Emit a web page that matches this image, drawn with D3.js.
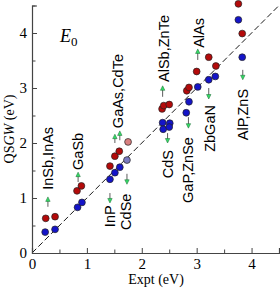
<!DOCTYPE html>
<html><head><meta charset="utf-8">
<script src="https://cdn.jsdelivr.net/npm/d3@7"></script>
<style>body{margin:0;background:#fff}svg{display:block}</style>
</head><body>
<svg id="c" width="280" height="289"></svg>
<script>
// Data (eV)
const redX  = [0.25,0.42,0.82,0.90,1.42,1.51,1.59,2.37,2.40,2.50,2.82,2.86,3.00,3.22,3.35,3.76,3.83];
const redY  = [0.63,0.66,1.13,1.22,1.58,1.76,1.85,2.62,2.68,2.70,2.95,3.01,3.30,3.56,3.40,4.53,3.99];
const blueX = [0.24,0.42,0.83,0.91,1.42,1.51,1.60,2.38,2.51,2.39,2.50,2.86,2.81,3.02,3.22,3.34,3.76,3.83];
const blueY = [0.38,0.43,0.83,0.92,1.34,1.46,1.56,2.37,2.36,2.25,2.29,2.75,2.55,3.02,3.15,3.21,4.24,3.56];
const pinkX = [1.75], pinkY = [2.02];
const purpX = [1.73], purpY = [1.69];
const xTicks = [0,1,2,3,4];
const yTicks = [0,1,2,3,4];
const labels = ["InSb,InAs","GaSb","GaAs,CdTe","InP","CdSe","CdS","AlSb,ZnTe","GaP,ZnSe","AlAs","ZbGaN","AlP,ZnS"];
const labelX = [0.29,0.84,1.56,1.42,1.71,2.47,2.40,2.84,3.04,3.24,3.84];
const labelY = [1.15,1.51,2.27,0.47,0.42,1.36,3.11,0.91,3.73,1.84,2.05];
// arrows: x, from y, to y
const arrX  = [0.29,0.84,1.51,1.60,1.42,1.73,2.47,2.38,2.85,3.02,3.22,3.84];
const arrY0 = [0.84,1.29,2.00,2.05,1.09,1.44,2.18,2.84,2.47,3.51,3.00,3.33];
const arrY1 = [1.02,1.47,2.16,2.22,0.91,1.25,2.00,3.04,2.27,3.71,2.80,3.15];

const svg = d3.select("#c");
const x = d3.scaleLinear().domain([0,4.5]).range([32,279]);
const y = d3.scaleLinear().domain([0,4.5]).range([253,5.5]);
const axisCol = "#444";

// dashed y=x line
svg.append("line").attr("x1",x(0)).attr("y1",y(0)).attr("x2",x(4.5)).attr("y2",y(4.5))
  .attr("stroke","#000").attr("stroke-width",0.9).attr("stroke-dasharray","6,3");

// axes
const gx = svg.append("g").attr("transform",`translate(0,${y(0)})`)
  .call(d3.axisBottom(x).tickValues(d3.range(0,4.51,0.5)).tickSize(-5).tickFormat(d=> xTicks.includes(d)? d3.format("d")(d):"").tickPadding(5));
const gy = svg.append("g").attr("transform",`translate(${x(0)},0)`)
  .call(d3.axisLeft(y).tickValues(d3.range(0,4.51,0.5)).tickSize(-5).tickFormat(d=> yTicks.includes(d)? d3.format("d")(d):"").tickPadding(5));
[gx,gy].forEach(g=>{
  g.select(".domain").attr("stroke",axisCol).attr("stroke-width",1.2);
  g.selectAll(".tick line").attr("stroke",axisCol).attr("stroke-width",1);
  g.selectAll("text").attr("font-family","Liberation Serif, Times New Roman, serif").attr("font-size",15).attr("fill","#000");
});
gx.selectAll(".tick").filter(d=>!xTicks.includes(d)).select("line").attr("y2",-3.5);
gy.selectAll(".tick").filter(d=>!yTicks.includes(d)).select("line").attr("x2",3.5);

// axis titles
svg.append("text").attr("x",156).attr("y",284).attr("text-anchor","middle")
  .attr("font-family","Liberation Serif, serif").attr("font-size",14).text("Expt (eV)");
const yt = svg.append("text").attr("transform",`translate(14,129) rotate(-90)`).attr("text-anchor","middle")
  .attr("font-family","Liberation Serif, serif").attr("font-size",14);
yt.append("tspan").text("QS");
yt.append("tspan").attr("font-style","italic").text("GW");
yt.append("tspan").text(" (eV)");

// E0
const e0 = svg.append("text").attr("x",60).attr("y",42).attr("font-family","Liberation Serif, serif").attr("font-size",18);
e0.append("tspan").attr("font-style","italic").text("E");
e0.append("tspan").attr("font-size",13).attr("dy",4).text("0");

// labels
labels.forEach((t,i)=>{
  svg.append("text").attr("transform",`translate(${x(labelX[i])},${y(labelY[i])}) rotate(-90)`)
    .attr("dy","0.36em").attr("font-family","Liberation Sans, Arial, sans-serif").attr("font-size",14.5).text(t);
});

// arrows
arrX.forEach((ax,i)=>{
  const px=x(ax), p0=y(arrY0[i]), p1=y(arrY1[i]);
  const dir = Math.sign(p1-p0);
  svg.append("line").attr("x1",px).attr("y1",p0).attr("x2",px).attr("y2",p1-dir*3)
    .attr("stroke","#333").attr("stroke-width",0.8);
  svg.append("path").attr("d",`M${px},${p1} L${px-2.2},${p1-dir*4.5} L${px+2.2},${p1-dir*4.5} Z`)
    .attr("fill","#33dd66").attr("stroke","#1a6633").attr("stroke-width",0.5);
});

// points
function pts(xs,ys,fill){
  svg.append("g").selectAll("circle").data(xs.map((v,i)=>[v,ys[i]])).join("circle")
    .attr("cx",d=>x(d[0])).attr("cy",d=>y(d[1])).attr("r",3.4)
    .attr("fill",fill).attr("stroke","#222").attr("stroke-width",0.7);
}
pts(redX,redY,"#b40a0a");
pts(blueX,blueY,"#1414c8");
pts(pinkX,pinkY,"#d98080");
pts(purpX,purpY,"#7a7ac0");
</script>
</body></html>
